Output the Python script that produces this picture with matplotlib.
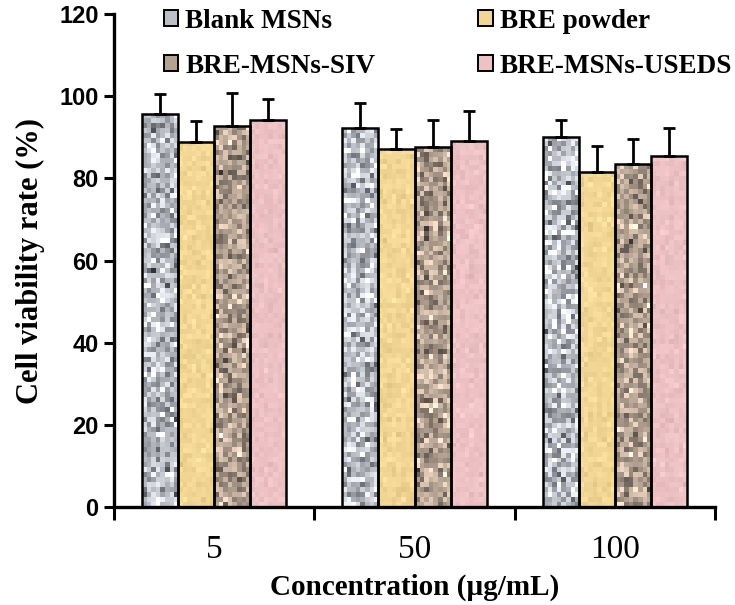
import numpy as np
import matplotlib
matplotlib.use("Agg")
import matplotlib.pyplot as plt
from matplotlib.patches import Patch

concentrations = ["5", "50", "100"]
series = ["Blank MSNs", "BRE powder", "BRE-MSNs-SIV", "BRE-MSNs-USEDS"]
blank_msns = [95.7, 92.2, 90.1]
bre_powder = [88.9, 87.1, 81.5]
bre_msns_siv = [92.8, 87.6, 83.4]
bre_msns_useds = [94.2, 89.1, 85.4]
blank_msns_err = [4.8, 6.2, 4.1]
bre_powder_err = [5.1, 4.8, 6.3]
bre_msns_siv_err = [7.9, 6.7, 6.1]
bre_msns_useds_err = [5.1, 7.3, 6.9]

values = [blank_msns, bre_powder, bre_msns_siv, bre_msns_useds]
errors = [blank_msns_err, bre_powder_err, bre_msns_siv_err, bre_msns_useds_err]

# base colour and speckle strength for each series texture
base_cols = [(0.74, 0.75, 0.78), (0.95, 0.84, 0.59), (0.70, 0.63, 0.57), (0.93, 0.76, 0.77)]
noise_amt = [0.17, 0.025, 0.16, 0.02]

serif = "Liberation Serif"
sans = "Liberation Sans"

fig = plt.figure(figsize=(7.35, 6.05), dpi=100)
ax = fig.add_axes([114 / 735, 1 - 507 / 605, 601 / 735, 493 / 605])

rng = np.random.default_rng(7)
x = np.arange(len(concentrations)) + 0.5
width = 0.18
offsets = [-0.27, -0.09, 0.09, 0.27]

for i, name in enumerate(series):
    bars = ax.bar(x + offsets[i], values[i], width, color=base_cols[i],
                  edgecolor="black", linewidth=1.8, zorder=3)
    for b in bars:
        x0, w, h = b.get_x(), b.get_width(), b.get_height()
        ny, nx = int(h / 1.2), 8
        n = rng.normal(0, noise_amt[i], (ny, nx, 1))
        tex = np.clip(np.array(base_cols[i])[None, None, :] + n, 0, 1)
        if i == 2:
            tex = np.clip(np.array(base_cols[i]) * (1 + rng.normal(0, 0.22, (ny, nx, 1))), 0, 1)
        im = ax.imshow(tex, extent=[x0, x0 + w, 0, h], aspect="auto",
                       interpolation="nearest", zorder=2.5)
        im.set_clip_path(b)
        b.set_facecolor("none")
    ax.errorbar(x + offsets[i], values[i], yerr=[np.zeros(3), errors[i]],
                fmt="none", ecolor="black", elinewidth=2.0, capsize=4.5,
                capthick=2.0, zorder=4)

ax.set_xlim(0, 3)
ax.set_ylim(0, 120)
ax.set_yticks(range(0, 121, 20))
ax.set_yticklabels([str(v) for v in range(0, 121, 20)], fontfamily=sans,
                   fontweight="bold", fontsize=17)
ax.set_xticks([0, 1, 2, 3])
ax.set_xticklabels([])
ax.set_xticks(x, minor=True)
ax.set_xticklabels(concentrations, minor=True, fontfamily=serif, fontsize=24)
ax.tick_params(axis="x", which="minor", length=0, pad=20)
ax.tick_params(axis="x", which="major", length=9, width=2.2, direction="out")
ax.tick_params(axis="y", length=7, width=2.2, direction="out", pad=4)

for s in ["top", "right"]:
    ax.spines[s].set_visible(False)
for s in ["left", "bottom"]:
    ax.spines[s].set_linewidth(2.4)

ax.set_xlabel("Concentration (\u00b5g/mL)", fontfamily=serif, fontweight="bold",
              fontsize=21, labelpad=6)
ax.set_ylabel("Cell viability rate (%)", fontfamily=serif, fontweight="bold",
              fontsize=22, labelpad=10)

# legend fills column by column, so order the entries to read row-wise
order = [0, 2, 1, 3]
handles = [Patch(facecolor=base_cols[k], edgecolor="black", linewidth=1.4) for k in order]
labels = [series[k] for k in order]
leg = ax.legend(handles, labels, ncol=2, loc="upper left",
                bbox_to_anchor=(0.060, 1.038), frameon=False, borderpad=0,
                handlelength=0.55, handleheight=0.55, handletextpad=0.25,
                columnspacing=3.8, labelspacing=0.74,
                prop={"family": serif, "weight": "bold", "size": 19.5})

fig.savefig("out.png", dpi=100)
